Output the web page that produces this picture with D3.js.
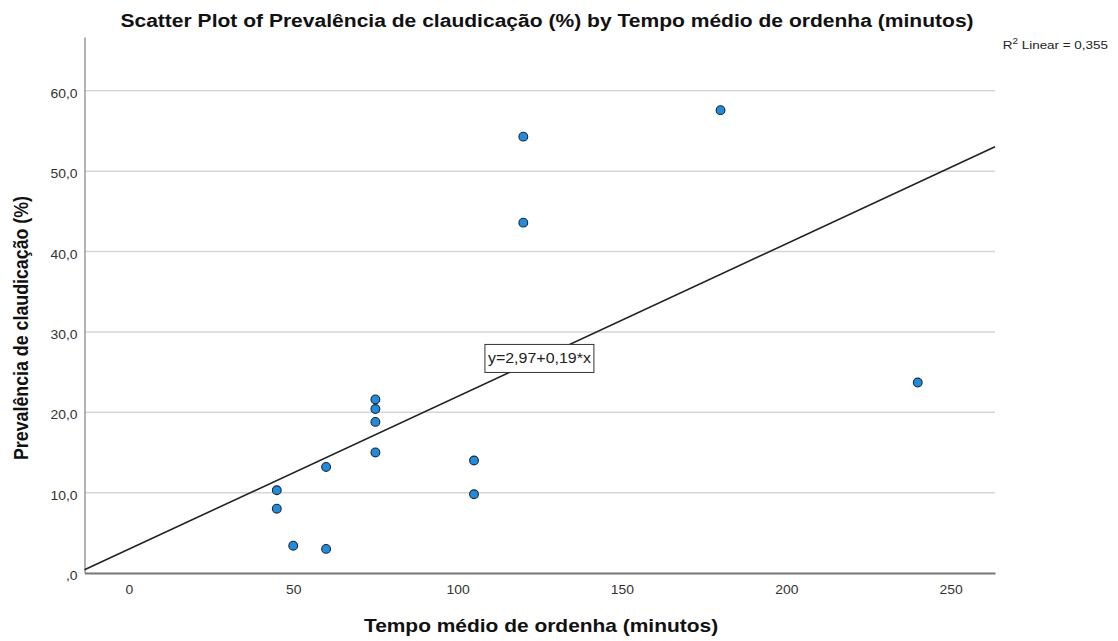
<!DOCTYPE html>
<html>
<head>
<meta charset="utf-8">
<script src="https://cdn.jsdelivr.net/npm/d3@7"></script>
<style>
  html, body { margin: 0; padding: 0; background: #fff; }
  svg { display: block; font-family: "Liberation Sans", Arial, sans-serif; }
</style>
</head>
<body>
<svg id="chart" width="1118" height="641"></svg>
<script>
// Tempo médio de ordenha (minutos) per farm
const milkingTime = [45, 45, 50, 60, 60, 75, 75, 75, 75, 105, 105, 120, 120, 180, 240];
// Prevalência de claudicação (%) per farm
const lamenessPct = [10.3, 8.0, 3.4, 3.0, 13.2, 21.6, 20.4, 18.8, 15.0, 14.0, 9.8, 54.3, 43.6, 57.6, 23.7];

const xTicks = [0, 50, 100, 150, 200, 250];
const yTicks = [0, 10, 20, 30, 40, 50, 60];

// Linear fit reported by the model
const fitIntercept = 2.97;
const fitSlope = 0.19;
const fitR2 = "0,355";

const titleText = "Scatter Plot of Prevalência de claudicação (%) by Tempo médio de ordenha (minutos)";
const xTitle = "Tempo médio de ordenha (minutos)";
const yTitle = "Prevalência de claudicação (%)";

// the chart's typeface is drawn slightly wide
const stretch = 1.15;

const svg = d3.select("#chart");
const plot = { left: 84.5, right: 995, top: 37, bottom: 573 };

const x = d3.scaleLinear().domain([-13.5, 263.5]).range([plot.left, plot.right]);
const y = d3.scaleLinear().domain([0, 66.7]).range([plot.bottom, plot.top]);

const fmtY = v => v === 0 ? ",0" : d3.format(".1f")(v).replace(".", ",");

// horizontal gridlines
svg.append("g")
  .selectAll("line")
  .data(yTicks.filter(d => d > 0))
  .join("line")
  .attr("x1", plot.left).attr("x2", plot.right)
  .attr("y1", d => y(d)).attr("y2", d => y(d))
  .attr("stroke", "#d6d6d6").attr("stroke-width", 1.5);

// y axis
const yAxis = svg.append("g")
  .attr("transform", `translate(${plot.left},0)`)
  .call(d3.axisLeft(y).tickValues(yTicks).tickFormat(fmtY).tickSize(0).tickPadding(7));
yAxis.select(".domain").attr("stroke", "#9a9a9a").attr("stroke-width", 1.5);
yAxis.selectAll("text")
  .attr("font-size", 12.1).attr("fill", "#333")
  .attr("font-family", "'Liberation Sans', Arial, sans-serif")
  .attr("x", -7 / stretch)
  .attr("dy", "0.55em")
  .attr("transform", `scale(${stretch},1)`);

// x axis
const xAxis = svg.append("g")
  .attr("transform", `translate(0,${plot.bottom})`)
  .call(d3.axisBottom(x).tickValues(xTicks).tickFormat(d3.format("d")).tickSize(0).tickPadding(12));
xAxis.select(".domain").attr("stroke", "#777").attr("stroke-width", 2);
xAxis.selectAll("text")
  .attr("font-size", 12.1).attr("fill", "#333")
  .attr("font-family", "'Liberation Sans', Arial, sans-serif")
  .attr("transform", `scale(${stretch},1)`);

// fit line across the visible x range
const xd = x.domain();
svg.append("line")
  .attr("x1", x(xd[0])).attr("y1", y(fitIntercept + fitSlope * xd[0]))
  .attr("x2", x(xd[1])).attr("y2", y(fitIntercept + fitSlope * xd[1]))
  .attr("stroke", "#222").attr("stroke-width", 1.6);

// equation label box
const eqG = svg.append("g").attr("transform", `translate(${x(124.9)},${y(26.7)})`);
eqG.append("rect")
  .attr("x", -54.5).attr("y", -14)
  .attr("width", 109).attr("height", 28)
  .attr("fill", "#fff").attr("stroke", "#333").attr("stroke-width", 1);
eqG.append("text")
  .attr("transform", `scale(${stretch},1)`)
  .attr("text-anchor", "middle").attr("dy", "0.36em")
  .attr("font-size", 13.9).attr("fill", "#222")
  .text(`y=${String(fitIntercept).replace(".", ",")}+${String(fitSlope).replace(".", ",")}*x`);

// points
svg.append("g")
  .selectAll("circle")
  .data(milkingTime.map((t, i) => [t, lamenessPct[i]]))
  .join("circle")
  .attr("cx", d => x(d[0])).attr("cy", d => y(d[1]))
  .attr("r", 4.4)
  .attr("fill", "#1a8de6").attr("stroke", "#262626").attr("stroke-width", 1.1);

// titles
svg.append("text")
  .attr("transform", `translate(547,27) scale(${stretch},1)`)
  .attr("text-anchor", "middle")
  .attr("font-size", 18.3).attr("font-weight", "bold").attr("fill", "#111")
  .text(titleText);

svg.append("text")
  .attr("transform", `translate(541,632) scale(${stretch},1)`)
  .attr("text-anchor", "middle")
  .attr("font-size", 18.2).attr("font-weight", "bold").attr("fill", "#111")
  .text(xTitle);

svg.append("text")
  .attr("transform", `translate(28,328) scale(${stretch},1) rotate(-90)`)
  .attr("text-anchor", "middle")
  .attr("font-size", 17.8).attr("font-weight", "bold").attr("fill", "#111")
  .text(yTitle);

// R squared annotation
const r2 = svg.append("text")
  .attr("transform", `translate(1108,49) scale(${stretch},1)`)
  .attr("text-anchor", "end")
  .attr("font-size", 11.7).attr("fill", "#222");
r2.append("tspan").text("R");
r2.append("tspan").attr("font-size", 8.5).attr("dy", -5).text("2");
r2.append("tspan").attr("dy", 5).text(" Linear = " + fitR2);
</script>
</body>
</html>
